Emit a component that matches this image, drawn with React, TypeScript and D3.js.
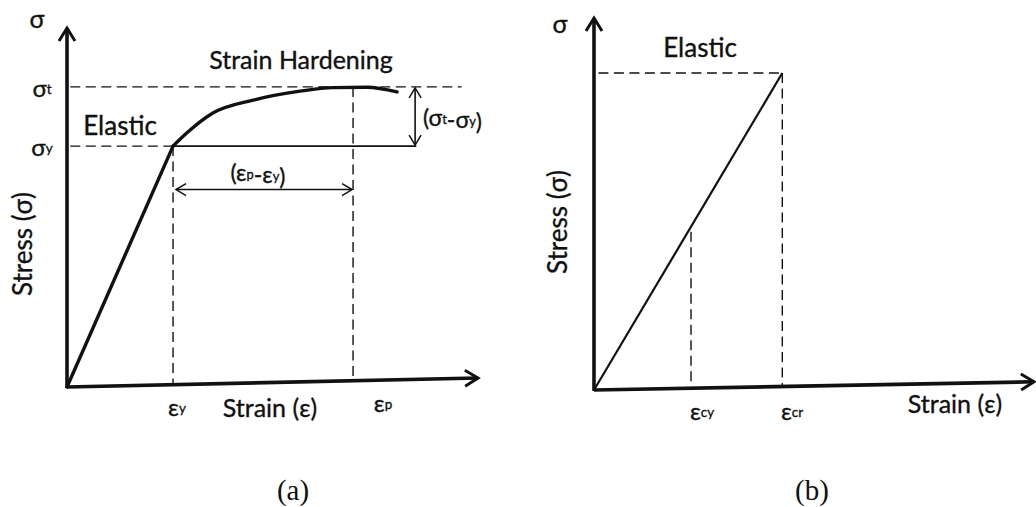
import React from "react";
import * as d3 from "d3";

// ---- panel (a): elastic + strain hardening (units: strain 0..10, stress 0..10)
const aYield: [number, number] = [2.58, 6.71];
const aUltimateStress = 8.36;
const aPeakStrain = 6.96;
const aHardening: [number, number][] = [
  [2.58, 6.71],
  [2.92, 7.08],
  [3.55, 7.63],
  [4.53, 7.99],
  [5.67, 8.24],
  [6.47, 8.34],
  [7.3, 8.35],
  [8.03, 8.22],
];
const aXAxisEnd: [number, number] = [10, 0.25];
const aDashEnd = 9.6;
const aDeltaArrowX = 8.47;
const aYieldLineEnd = 8.5;
const aStrainArrowY = 5.5;

// ---- panel (b): linear elastic
const bCrack: [number, number] = [4.27, 8.52];
const bYieldStrain = 2.2;
const bXAxisEnd: [number, number] = [10, 0.22];

const FONT = "Lato, 'Open Sans', 'Liberation Sans', sans-serif";
const SERIF = "'Liberation Serif', 'Times New Roman', serif";
const INK = "#111";

function Sub({ base, sub }: { base: string; sub: string }) {
  return (
    <>
      <tspan>{base}</tspan>
      <tspan fontSize="56%" dy={2}>{sub}</tspan>
      <tspan dy={-2}></tspan>
    </>
  );
}

// text defaults: slight stroke to match the heavier scanned glyphs
const T = {
  fill: INK,
  stroke: INK,
  strokeWidth: 0.35,
  textAnchor: "middle" as const,
  dominantBaseline: "central" as const,
};

export default function App() {
  const ax = d3.scaleLinear().domain([0, 10]).range([67, 478]);
  const ay = d3.scaleLinear().domain([0, 10]).range([387, 28]);
  const bx = d3.scaleLinear().domain([0, 10]).range([594, 1035]);
  const by = d3.scaleLinear().domain([0, 10]).range([390, 18]);

  const line = d3
    .line<[number, number]>()
    .x((d) => ax(d[0]))
    .y((d) => ay(d[1]))
    .curve(d3.curveMonotoneX);

  // y of the slightly tilted x axis at a given strain
  const aAxisY = (x: number) => (aXAxisEnd[1] * x) / aXAxisEnd[0];
  const bAxisY = (x: number) => (bXAxisEnd[1] * x) / bXAxisEnd[0];

  const dash = "10,5.5";

  return (
    <svg
      width={1036}
      height={507}
      viewBox="0 0 1036 507"
      style={{ position: "absolute", left: 0, top: 0, background: "#fff" }}
      fontFamily={FONT}
    >
      <defs>
        <marker id="axisHead" viewBox="-16 -10 20 20" markerWidth={20} markerHeight={20}
          refX={0} refY={0} orient="auto" markerUnits="userSpaceOnUse">
          <path d="M-13,-8 L0,0 L-13,8" fill="none" stroke={INK} strokeWidth={3} />
        </marker>
        <marker id="smallHead" viewBox="-12 -8 14 16" markerWidth={14} markerHeight={16}
          refX={0} refY={0} orient="auto-start-reverse" markerUnits="userSpaceOnUse">
          <path d="M-10,-6 L0,0 L-10,6" fill="none" stroke={INK} strokeWidth={1.5} />
        </marker>
      </defs>

      {/* ================= panel (a) ================= */}
      <g>
        {/* dashed guides */}
        <line x1={ax(0.08)} x2={ax(aDashEnd)} y1={ay(aUltimateStress)} y2={ay(aUltimateStress)}
          stroke={INK} strokeWidth={1.4} strokeDasharray={dash} />
        <line x1={ax(0.08)} x2={ax(aYield[0])} y1={ay(aYield[1])} y2={ay(aYield[1])}
          stroke={INK} strokeWidth={1.4} strokeDasharray={dash} />
        <line x1={ax(aYield[0])} x2={ax(aYieldLineEnd)} y1={ay(aYield[1])} y2={ay(aYield[1])}
          stroke={INK} strokeWidth={1.6} />
        <line x1={ax(aYield[0])} x2={ax(aYield[0])} y1={ay(aYield[1])} y2={ay(aAxisY(aYield[0]))}
          stroke={INK} strokeWidth={1.4} strokeDasharray={dash} />
        <line x1={ax(aPeakStrain)} x2={ax(aPeakStrain)} y1={ay(aUltimateStress)} y2={ay(aAxisY(aPeakStrain)) - 4}
          stroke={INK} strokeWidth={1.4} strokeDasharray={dash} />

        {/* double arrows */}
        <line x1={ax(aYield[0]) + 3} x2={ax(aPeakStrain) - 1} y1={ay(aStrainArrowY)} y2={ay(aStrainArrowY)}
          stroke={INK} strokeWidth={1.6} markerStart="url(#smallHead)" markerEnd="url(#smallHead)" />
        <line x1={ax(aDeltaArrowX)} x2={ax(aDeltaArrowX)} y1={ay(aUltimateStress) + 1} y2={ay(aYield[1]) - 1}
          stroke={INK} strokeWidth={1.6} markerStart="url(#smallHead)" markerEnd="url(#smallHead)" />

        {/* stress-strain curve */}
        <line x1={ax(0)} y1={ay(0)} x2={ax(aYield[0])} y2={ay(aYield[1])}
          stroke={INK} strokeWidth={3.4} strokeLinecap="round" />
        <path d={line(aHardening) ?? ""} fill="none" stroke={INK} strokeWidth={3.4} strokeLinecap="round" />

        {/* axes */}
        <line x1={ax(0)} y1={ay(0) + 1} x2={ax(0)} y2={ay(10)} stroke={INK} strokeWidth={3.6}
          markerEnd="url(#axisHead)" />
        <line x1={ax(0)} y1={ay(0)} x2={ax(aXAxisEnd[0])} y2={ay(aXAxisEnd[1])} stroke={INK} strokeWidth={3.6}
          markerEnd="url(#axisHead)" />

        {/* labels */}
        <text {...T} x={37} y={18} fontSize={25}>σ</text>
        <text {...T} x={42} y={ay(aUltimateStress)} fontSize={24}>
          <Sub base="σ" sub="t" />
        </text>
        <text {...T} x={42} y={ay(aYield[1])} fontSize={24}>
          <Sub base="σ" sub="y" />
        </text>
        <text {...T} x={120} y={125} fontSize={26}>Elastic</text>
        <text {...T} x={301} y={59} fontSize={25}>Strain Hardening</text>
        <text {...T} x={258} y={172} fontSize={23}>
          (<Sub base="ε" sub="p" />-<Sub base="ε" sub="y" />)
        </text>
        <text {...T} x={423} y={117} fontSize={23} textAnchor="start">
          (<Sub base="σ" sub="t" />-<Sub base="σ" sub="y" />)
        </text>
        <text {...T} transform="translate(22,244) rotate(-90)" fontSize={26}>Stress (σ)</text>
        <text {...T} x={177} y={406} fontSize={24}>
          <Sub base="ε" sub="y" />
        </text>
        <text {...T} x={270} y={407} fontSize={25}>Strain (ε)</text>
        <text {...T} x={383} y={402} fontSize={24}>
          <Sub base="ε" sub="p" />
        </text>
      </g>

      {/* ================= panel (b) ================= */}
      <g>
        <line x1={bx(0.1)} x2={bx(bCrack[0])} y1={by(bCrack[1])} y2={by(bCrack[1])}
          stroke={INK} strokeWidth={1.4} strokeDasharray={dash} />
        <line x1={bx(bCrack[0])} x2={bx(bCrack[0])} y1={by(bCrack[1])} y2={by(bAxisY(bCrack[0]))}
          stroke={INK} strokeWidth={1.4} strokeDasharray={dash} />
        <line x1={bx(bYieldStrain)} x2={bx(bYieldStrain)}
          y1={by((bCrack[1] * bYieldStrain) / bCrack[0]) + 5} y2={by(bAxisY(bYieldStrain))}
          stroke={INK} strokeWidth={1.4} strokeDasharray={dash} />

        <line x1={bx(0)} y1={by(0)} x2={bx(bCrack[0])} y2={by(bCrack[1])} stroke={INK} strokeWidth={2.2} />

        <line x1={bx(0)} y1={by(0) + 1} x2={bx(0)} y2={by(10)} stroke={INK} strokeWidth={3.6}
          markerEnd="url(#axisHead)" />
        <line x1={bx(0)} y1={by(0)} x2={bx(bXAxisEnd[0]) - 1} y2={by(bXAxisEnd[1])} stroke={INK} strokeWidth={3.6}
          markerEnd="url(#axisHead)" />

        <text {...T} x={560} y={23} fontSize={25}>σ</text>
        <text {...T} x={700} y={47} fontSize={26}>Elastic</text>
        <text {...T} transform="translate(557,222) rotate(-90)" fontSize={26}>Stress (σ)</text>
        <text {...T} x={702} y={410} fontSize={24}>
          <Sub base="ε" sub="cy" />
        </text>
        <text {...T} x={792} y={410} fontSize={24}>
          <Sub base="ε" sub="cr" />
        </text>
        <text {...T} x={955} y={403} fontSize={25}>Strain (ε)</text>
      </g>

      {/* panel captions */}
      <text x={293} y={490} fontSize={29} fontFamily={SERIF} textAnchor="middle"
        dominantBaseline="central" fill={INK}>(a)</text>
      <text x={812} y={490} fontSize={29} fontFamily={SERIF} textAnchor="middle"
        dominantBaseline="central" fill={INK}>(b)</text>
    </svg>
  );
}
